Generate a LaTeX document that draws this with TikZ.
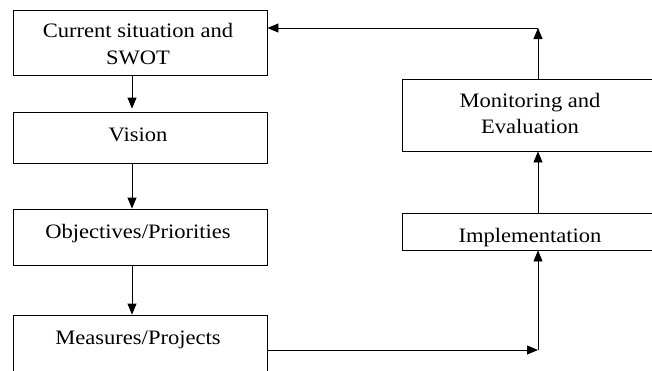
\documentclass[tikz,border=0pt]{standalone}
\usepackage{fontspec}
\setmainfont{Liberation Serif}
\usetikzlibrary{arrows.meta}
\newcommand\sx[1]{\scalebox{1.1}[1]{#1}}
\begin{document}
\begin{tikzpicture}[x=1pt,y=-1pt,
  box/.style={draw, line width=0.9pt, inner sep=0pt, minimum width=254pt},
  rbox/.style={draw, line width=0.9pt, inner sep=0pt, minimum width=256pt},
  lbl/.style={font=\fontsize{20.5}{26.5}\selectfont, align=center, inner sep=0pt},
  arr/.style={-{Triangle[length=11pt,width=9pt]}, line width=0.9pt}]
\useasboundingbox (0,0) rectangle (652,370);
\clip (0,0) rectangle (652,370);
% boxes
\node[box, minimum height=65pt] (b1) at (140,42.5) {};
\node[box, minimum height=51pt] (b2) at (140,137.5) {};
\node[box, minimum height=56pt] (b3) at (140,237) {};
\node[box, minimum height=85pt] (b4) at (140,357.5) {};
\node[rbox, minimum height=72pt] (b5) at (530,115) {};
\node[rbox, minimum height=37pt] (b6) at (530,231.5) {};
% labels
\node[lbl] (t1) at (138,44) {\sx{Current situation and}\\\sx{SWOT}};
\node[lbl, anchor=base] (t2) at (138,141) {\sx{Vision}};
\node[lbl, anchor=base] (t3) at (138,238) {\sx{Objectives/Priorities}};
\node[lbl, anchor=base] (t4) at (138,344) {\sx{Measures/Projects}};
\node[lbl] (t5) at (530,113.3) {\sx{Monitoring and}\\\sx{Evaluation}};
\node[lbl, anchor=base] (t6) at (530,242) {\sx{Implementation}};
% connectors
\draw[arr, shorten >=3pt] ([xshift=-8pt]b1.south) -- ([xshift=-8pt]b2.north);
\draw[arr] ([xshift=-8pt]b2.south) -- ([xshift=-8pt]b3.north);
\draw[arr] ([xshift=-8pt]b3.south) -- ([xshift=-8pt]b4.north);
\coordinate (c1) at (538,350);
\coordinate (c2) at (538,28);
\draw[arr] (b4.east |- c1) -- (c1);
\draw[arr] (c1) -- (c1 |- b6.south);
\draw[arr] (c1 |- b6.north) -- (c1 |- b5.south);
\draw[arr] (c1 |- b5.north) -- (c2);
\draw[arr] (c2) -- (c2 -| b1.east);
\end{tikzpicture}
\end{document}
